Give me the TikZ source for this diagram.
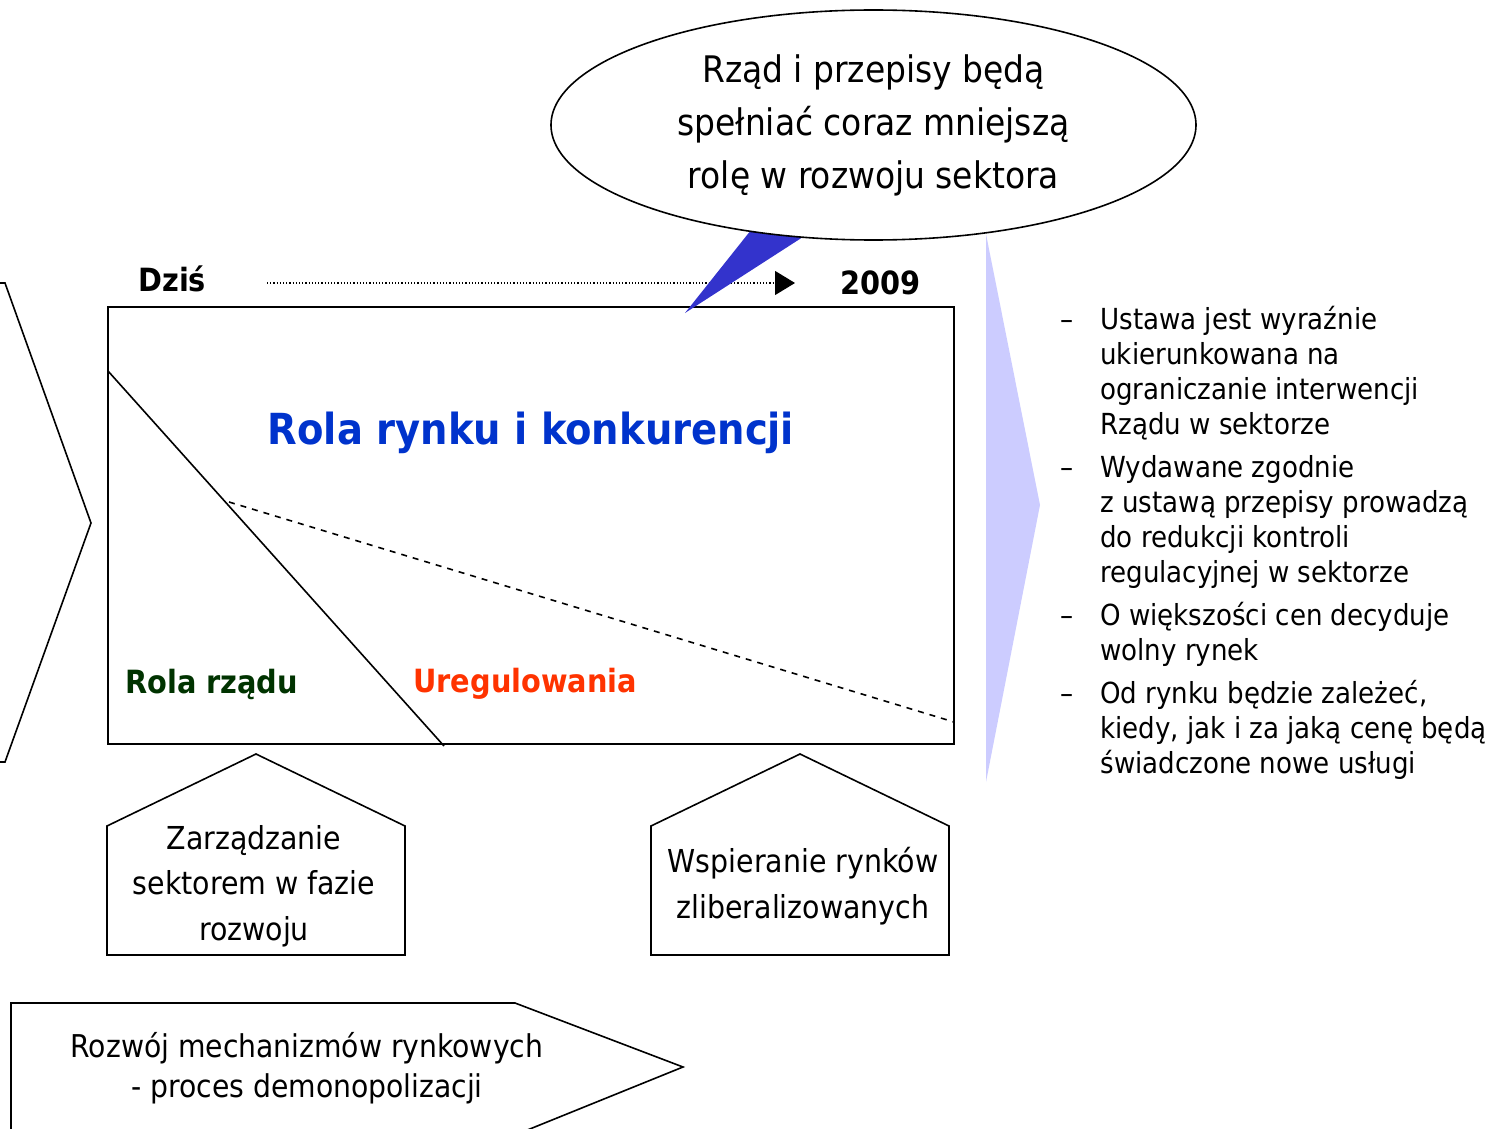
\documentclass[tikz,border=0pt]{standalone}
\usepackage{fontspec}
\setmainfont{DejaVu Sans Condensed}
\usetikzlibrary{arrows.meta,shapes.geometric,positioning}
\definecolor{pointerblue}{HTML}{3333CC}
\definecolor{titleblue}{HTML}{0033CC}
\definecolor{govgreen}{HTML}{003300}
\definecolor{regred}{HTML}{FF3300}
\definecolor{lavender}{HTML}{CCCCFF}

\begin{document}
\begin{tikzpicture}[x=0.5pt, y=-0.5pt,
    outline/.style={draw, line width=0.8pt},
    label/.style={inner sep=0pt, font=\bfseries\fontsize{16}{19}\selectfont},
    title/.style={inner sep=0pt, text=titleblue, font=\bfseries\fontsize{21.4}{26}\selectfont},
    boxtext/.style={align=center, inner sep=0pt, font=\fontsize{15.8}{22.75}\selectfont},
    item/.style={anchor=base west, align=left, inner sep=0pt, font=\fontsize{14.5}{17.5}\selectfont},
    timeline/.style={densely dotted, line width=0.6pt, -{Triangle[length=10pt, width=12pt, sep=0pt]}}]
    \useasboundingbox (0,0) rectangle (1490,1129);

    % chevrons
    \draw[outline] (-40,283) -- (5,283) -- (91,523) -- (5,762) -- (-40,762);
    \fill[lavender] (986,234) -- (1040,505) -- (986,782) -- cycle;

    % time frame
    \draw[outline] (108,307) rectangle (954,744);
    \draw[line width=0.8pt] (108,371) -- (444,746);
    \draw[dashed, line width=0.8pt] (229,502) -- (954,722);
    \node[title] (market) at (531,433) {Rola rynku i konkurencji};
    \node[label, text=govgreen, anchor=west] (gov) at (125,684) {Rola rządu};
    \node[label, text=regred, anchor=west] (reg) at (413,684) {Uregulowania};

    \node[label, anchor=west] (today) at (138,279) {Dziś};
    \node[label, anchor=west] (year) at (840,283) {2009};
    \coordinate (t0) at (267,283);
    \coordinate (t1) at (795,283);
    \draw[timeline] (t0) -- (t1);

    % callout
    \fill[pointerblue] (685,313) -- (759,220) -- (820,226) -- cycle;
    \node[outline, ellipse, fill=white, minimum width=322.5pt, minimum height=115pt, inner sep=0pt] (bubble) at (873.5,125) {};
    \node[boxtext, font=\fontsize{18.3}{26.5}\selectfont] (bubbletext) at (bubble) {Rząd i przepisy będą\\spełniać coraz mniejszą\\rolę w rozwoju sektora};

    % pentagons
    \draw[outline] (107,955) -- (107,826) -- (256,754) -- (405,826) -- (405,955) -- cycle;
    \node[boxtext] (manage) at (254,886) {Zarządzanie\\sektorem w fazie\\rozwoju};
    \draw[outline] (651,955) -- (651,826) -- (800,754) -- (949,826) -- (949,955) -- cycle;
    \node[boxtext] (support) at (803,886) {Wspieranie rynków\\zliberalizowanych};

    % bottom arrow
    \draw[outline] (11,1140) -- (11,1003) -- (515,1003) -- (683,1067) -- (515,1135);
    \node[boxtext, font=\fontsize{15.7}{20}\selectfont] (devel) at (307,1068) {Rozwój mechanizmów rynkowych\\- proces demonopolizacji};

    % list (first and last baseline of each item)
    \foreach \y/\yl/\txt in {329/434/{Ustawa jest wyraźnie\\ukierunkowana na\\ograniczanie interwencji\\Rządu w sektorze},
        477/582/{Wydawane zgodnie\\z ustawą przepisy prowadzą\\do redukcji kontroli\\regulacyjnej w sektorze},
        625/660/{O większości cen decyduje\\wolny rynek},
        703/773/{Od rynku będzie zależeć,\\kiedy, jak i za jaką cenę będą\\świadczone nowe usługi}}{
        \node[item] at (1060,\y) {--};
        \node[item] at (1100,\yl) {\txt};
    }
\end{tikzpicture}
\end{document}
